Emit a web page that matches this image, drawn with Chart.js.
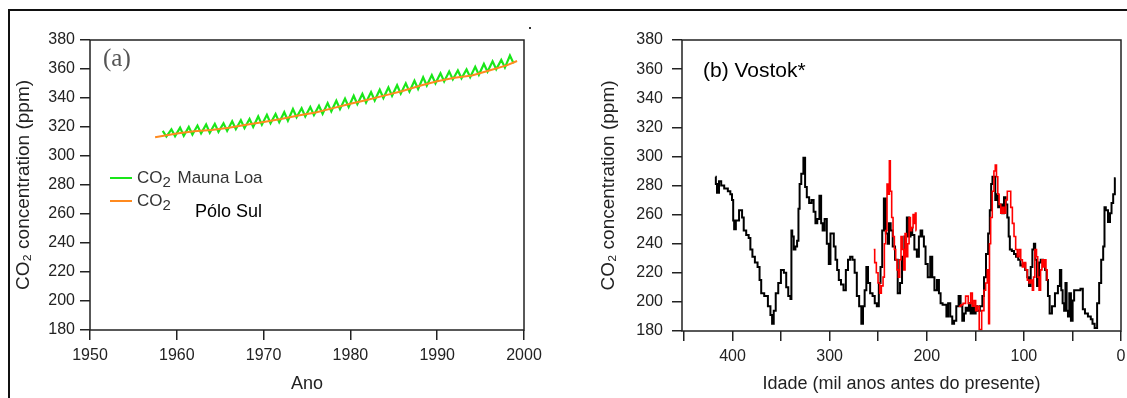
<!DOCTYPE html>
<html>
<head>
<meta charset="utf-8">
<script src="https://cdn.jsdelivr.net/npm/chart.js@4"></script>
<style>
html, body { margin: 0; padding: 0; background: #fff; }
body { width: 1127px; height: 398px; position: relative; overflow: hidden; }
#frameTop { position: absolute; left: 8px; top: 9px; width: 1119px; height: 2px; background: #111; }
#frameLeft { position: absolute; left: 8px; top: 9px; width: 2px; height: 389px; background: #111; }
canvas { position: absolute; }
#left { left: 10px; top: 12px; width: 550px; height: 386px; }
#right { left: 562px; top: 12px; width: 565px; height: 386px; }
</style>
</head>
<body>
<div id="frameTop"></div>
<div id="frameLeft"></div>
<canvas id="left" width="550" height="386"></canvas>
<canvas id="right" width="565" height="386"></canvas>
<script>
// (a) Mauna Loa: one spring maximum and one autumn minimum per year
const mlYears = [1958, 1959, 1960, 1961, 1962, 1963, 1964, 1965, 1966, 1967, 1968, 1969,
  1970, 1971, 1972, 1973, 1974, 1975, 1976, 1977, 1978, 1979, 1980, 1981, 1982, 1983,
  1984, 1985, 1986, 1987, 1988, 1989, 1990, 1991, 1992, 1993, 1994, 1995, 1996, 1997, 1998];
const mlSpring = [317.3, 318.4, 319.6, 320.1, 321.0, 321.7, 322.2, 322.6, 323.9, 324.7, 325.6, 327.3,
  328.4, 329.0, 330.2, 332.4, 332.9, 333.8, 334.7, 336.5, 338.1, 339.6, 341.5, 342.8, 344.1, 345.7,
  347.3, 348.8, 350.1, 351.9, 354.3, 355.8, 357.0, 358.3, 359.0, 359.7, 361.5, 363.5, 365.3, 366.3, 369.3];
const mlAutumn = [313.4, 313.7, 314.0, 314.8, 315.6, 316.0, 316.7, 317.3, 318.5, 319.2, 320.0, 321.6,
  322.6, 323.3, 324.4, 326.7, 327.2, 328.2, 329.1, 330.8, 332.3, 333.8, 335.7, 336.9, 338.3, 340.0,
  341.5, 343.0, 344.4, 346.2, 348.6, 350.1, 351.4, 352.8, 353.6, 354.3, 356.0, 358.1, 359.8, 361.0, 363.9];

// (a) South Pole
const spYears = [1957.5, 1960, 1962, 1964, 1966, 1968, 1970, 1972, 1974, 1976, 1978, 1980,
  1982, 1984, 1986, 1988, 1990, 1992, 1994, 1996, 1998, 1999.2];
const spCO2 = [313.0, 315.5, 317.0, 318.0, 319.5, 321.5, 323.5, 325.5, 328.0, 330.0, 333.0, 336.0,
  338.8, 341.8, 344.8, 348.5, 351.5, 354.0, 355.5, 359.0, 362.5, 365.5];

// (b) Vostok, age in thousand years before present
const vostokAge = [417.5, 416.8, 415.1, 412.7, 410.6, 406.5, 403.1, 401.4, 399.6, 399.0, 397.6, 395.5,
  391.0, 389.3, 387.6, 384.2, 382.5, 380.7, 378.3, 375.6, 372.8, 371.5, 369.4, 365.3, 361.8, 360.1,
  358.4, 356.7, 354.3, 351.5, 348.8, 345.4, 344.0, 341.2, 339.5, 339.2, 337.8, 336.1, 334.4, 332.6,
  331.6, 330.2, 328.2, 325.8, 324.7, 322.3, 319.9, 317.5, 315.5, 313.7, 311.7, 309.3, 308.2, 306.2,
  304.1, 301.7, 300.0, 298.3, 296.6, 294.8, 293.1, 291.4, 289.7, 286.9, 284.5, 282.1, 280.1, 277.7,
  275.3, 273.2, 270.8, 268.4, 266.3, 265.0, 262.9, 261.5, 259.5, 257.1, 254.5, 252.6, 250.2, 248.5,
  246.7, 245.0, 243.3, 240.9, 239.5, 238.2, 236.1, 234.0, 231.3, 228.5, 226.5, 224.4, 221.7, 219.3,
  217.5, 215.8, 214.1, 211.4, 209.0, 207.2, 205.5, 203.8, 202.1, 200.4, 197.6, 195.2, 193.5, 190.7,
  188.3, 186.6, 184.9, 182.5, 180.5, 179.0, 177.0, 174.6, 172.9, 170.8, 168.4, 166.0, 164.3, 162.5,
  160.8, 159.0, 157.4, 155.7, 153.9, 152.0, 150.5, 148.8, 147.1, 143.6, 141.9, 140.2, 137.8, 135.8,
  134.4, 133.0, 131.7, 130.0, 128.9, 127.5, 125.5, 123.4, 121.3, 119.6, 117.9, 116.2, 115.1, 113.8,
  111.0, 109.3, 106.9, 104.8, 102.4, 100.0, 97.3, 95.6, 93.8, 92.1, 90.4, 89.0, 87.7, 85.2, 83.5,
  81.8, 79.0, 77.3, 75.9, 74.5, 72.5, 69.7, 66.3, 63.6, 62.2, 60.8, 59.4, 57.7, 56.7, 55.3, 53.9,
  52.6, 50.5, 49.1, 47.4, 43.0, 40.5, 38.1, 36.1, 32.0, 30.2, 28.5, 25.8, 23.4, 21.6, 19.2, 17.5,
  16.5, 14.8, 12.0, 10.6, 8.9, 7.2, 5.5];
const vostokCO2 = [286, 281, 275, 283, 280, 278, 276, 274, 270, 256, 250, 256,
  263, 258, 249, 246, 244, 236, 231, 227, 224, 215, 206, 204, 197, 191,
  185, 194, 206, 213, 222, 220, 210, 204, 202, 249, 245, 236, 238, 242,
  264, 281, 288, 299, 279, 272, 268, 270, 262, 254, 257, 273, 254, 249,
  257, 240, 226, 247, 247, 238, 229, 222, 215, 212, 208, 222, 229, 231,
  229, 220, 204, 197, 185, 197, 208, 224, 213, 206, 204, 199, 197, 213,
  224, 249, 271, 247, 240, 254, 249, 238, 229, 206, 213, 231, 245, 258,
  245, 251, 246, 236, 231, 245, 249, 245, 238, 226, 217, 231, 217, 208,
  215, 206, 199, 198, 198, 190, 199, 190, 185, 187, 197, 204, 197, 187,
  192, 196, 194, 199, 192, 196, 192, 197, 194, 197, 204, 217, 233, 247,
  263, 281, 286, 286, 270, 274, 265, 267, 261, 272, 267, 258, 245, 236,
  235, 233, 231, 229, 225, 226, 222, 217, 211, 224, 236, 240, 229, 211, 227,
  229, 228, 222, 215, 204, 192, 197, 206, 211, 222, 208, 199, 194, 213, 194, 190,
  206, 187, 201, 208, 208, 209, 195, 192, 190, 188, 185, 182, 199, 213, 229, 238,
  265, 263, 255, 261, 268, 274, 285];

// (b) red record, two sections (null = break)
const redAge = [254.6, 252.6, 251.2, 249.1, 247.8, 245.7, 244.3, 243.0, 241.6, 240.2, 238.8, 238.2,
  236.8, 235.4, 234.0, 232.7, 231.3, 229.9, 228.5, 227.2, 225.8, 224.4, 223.0, 221.7, 220.3, 218.9,
  217.5, 216.2, 214.8, 213.4, 212.0, 211.4, 210.7, null,
  167.0, 165.3, 164.3, 161.0, 159.0, 155.6, 153.9, 152.2, 150.5, 148.8, 147.1, 144.9, 142.0, 140.2,
  138.5, 136.8, 135.8, 135.0, 133.4, 131.7, 130.0, 128.9, 127.5, 126.2, 124.8, 122.8, 121.4, 119.6,
  117.9, 116.2, 114.4, 112.7, 111.0, 109.3, 107.6, 105.9, 104.1, 102.4, 100.7, 99.0, 97.3, 95.6,
  93.8, 92.1, 90.4, 89.7, 87.7, 86.3, 85.2, 83.5, 82.1, 80.7, 79.4, 78.0, 76.6, 75.6];
const redCO2 = [236, 227, 220, 213, 206, 211, 217, 240, 249, 281, 274, 297,
  276, 258, 245, 236, 229, 222, 217, 229, 245, 236, 222, 247, 231, 240,
  258, 249, 251, 260, 254, 261, 249, null,
  197, 197, 198, 199, 204, 199, 206, 197, 201, 194, 197, 181, 194, 208,
  213, 222, 185, 240, 258, 276, 290, 294, 286, 274, 267, 261, 265, 261,
  270, 276, 276, 265, 254, 245, 236, 231, 236, 229, 224, 227, 222, 215,
  213, 215, 208, 217, 236, 231, 217, 208, 222, 229, 224, 229, 222, 215];

const yTicks = [180, 200, 220, 240, 260, 280, 300, 320, 340, 360, 380];
const yearTicks = [1950, 1960, 1970, 1980, 1990, 2000];
const ageTicks = [0, 50, 100, 150, 200, 250, 300, 350, 400, 450];
const ageLabels = [0, 100, 200, 300, 400];
const legendNames = ['Mauna Loa', 'South Pole'];

const FONT = '"Liberation Sans", Arial, sans-serif';
const INK = '#222';

const mlPoints = [];
mlYears.forEach((yr, i) => {
  mlPoints.push({ x: yr + 0.38, y: mlSpring[i] });
  mlPoints.push({ x: yr + 0.8, y: mlAutumn[i] });
});
const spPoints = spYears.map((yr, i) => ({ x: yr, y: spCO2[i] }));
const vostokPoints = vostokAge.map((a, i) => ({ x: a, y: vostokCO2[i] }));
const redPoints = redAge.map((a, i) => ({ x: a, y: redCO2[i] }));

// box round the plot area
const framePlugin = {
  id: 'frame',
  afterDatasetsDraw(chart) {
    const { ctx, chartArea: a } = chart;
    ctx.save();
    ctx.strokeStyle = INK;
    ctx.lineWidth = 1.5;
    ctx.strokeRect(a.left, a.top, a.right - a.left, a.bottom - a.top);
    ctx.restore();
  }
};

function co2Text(ctx, x, y, rest) {
  ctx.font = '17px ' + FONT;
  ctx.fillText('CO', x, y);
  const w = ctx.measureText('CO').width;
  ctx.font = '15px ' + FONT;
  ctx.fillText('2', x + w, y + 5);
  ctx.font = '17px ' + FONT;
  ctx.fillText(rest, x + w + 15, y);
}

const leftNotes = {
  id: 'leftNotes',
  afterDraw(chart) {
    const ctx = chart.ctx;
    const ds = chart.data.datasets;
    ctx.save();
    ctx.textBaseline = 'middle';
    ctx.fillStyle = '#555';
    ctx.font = '25px "Liberation Serif", serif';
    ctx.fillText('(a)', 93, 47);
    legendNames.forEach((name, i) => {
      const y = 166 + i * 23;
      ctx.strokeStyle = ds[i].borderColor;
      ctx.lineWidth = 2;
      ctx.beginPath();
      ctx.moveTo(100, y);
      ctx.lineTo(122, y);
      ctx.stroke();
      ctx.fillStyle = '#333';
      co2Text(ctx, 127, y, name);
    });
    ctx.fillStyle = '#fff';
    ctx.fillRect(165, 181, 152, 37);
    ctx.fillStyle = '#000';
    ctx.font = '18px ' + FONT;
    ctx.fillText('Pólo Sul', 185, 200);
    ctx.fillStyle = '#333';
    ctx.fillRect(519, 15, 2, 2);
    ctx.restore();
  }
};

const rightNotes = {
  id: 'rightNotes',
  afterDraw(chart) {
    const ctx = chart.ctx;
    ctx.save();
    ctx.textBaseline = 'middle';
    ctx.fillStyle = '#000';
    ctx.font = '21px ' + FONT;
    ctx.fillText('(b) Vostok*', 141, 59);
    ctx.restore();
  }
};

function yAxis(width, titlePad, labelPad) {
  return {
    min: 180, max: 380,
    afterBuildTicks(s) { s.ticks = yTicks.map(v => ({ value: v })); },
    afterFit(s) { s.width = width; },
    ticks: { color: INK, font: { family: FONT, size: 16 }, padding: labelPad, callback: v => String(v) },
    grid: { drawOnChartArea: false, color: INK, lineWidth: 1.5, tickLength: 10 },
    border: { display: false },
    title: { display: true, text: 'CO₂ concentration (ppm)', color: INK,
      font: { family: FONT, size: 19 }, padding: { top: titlePad, bottom: 0 } }
  };
}

const common = {
  responsive: false,
  animation: false,
  events: [],
  plugins: { legend: { display: false }, tooltip: { enabled: false } }
};

new Chart(document.getElementById('left'), {
  type: 'line',
  data: {
    datasets: [
      { label: 'CO2 Mauna Loa', data: mlPoints, borderColor: '#19e619', borderWidth: 2.2,
        pointRadius: 0, tension: 0, order: 1 },
      { label: 'CO2 South Pole', data: spPoints, borderColor: '#ff8a1f', borderWidth: 2,
        pointRadius: 0, tension: 0, order: 0 }
    ]
  },
  options: Object.assign({}, common, {
    layout: { padding: { top: 28, right: 36, left: 0, bottom: 0 } },
    scales: {
      x: {
        type: 'linear', min: 1950, max: 2000,
        afterBuildTicks(s) { s.ticks = yearTicks.map(v => ({ value: v })); },
        afterFit(s) { s.height = 68; },
        ticks: { color: INK, font: { family: FONT, size: 16 }, padding: 6,
          autoSkip: false, maxRotation: 0, callback: v => String(v) },
        grid: { drawOnChartArea: false, color: INK, lineWidth: 1.5, tickLength: 10 },
        border: { display: false },
        title: { display: true, text: 'Ano', color: INK, font: { family: FONT, size: 18 },
          padding: { top: 0, bottom: 3 } }
      },
      y: yAxis(80, 2, 5)
    }
  }),
  plugins: [framePlugin, leftNotes]
});

new Chart(document.getElementById('right'), {
  type: 'line',
  data: {
    datasets: [
      { label: 'Vostok', data: vostokPoints, borderColor: '#000', borderWidth: 2,
        pointRadius: 0, stepped: 'middle', order: 1 },
      { label: 'Vostok (red)', data: redPoints, borderColor: '#ff0000', borderWidth: 1.6,
        pointRadius: 0, stepped: 'middle', spanGaps: false, order: 0 }
    ]
  },
  options: Object.assign({}, common, {
    layout: { padding: { top: 28, right: 6, left: 0, bottom: 0 } },
    scales: {
      x: {
        type: 'linear', min: 0, max: 452, reverse: true,
        afterBuildTicks(s) { s.ticks = ageTicks.map(v => ({ value: v })); },
        afterFit(s) { s.height = 67; },
        ticks: { color: INK, font: { family: FONT, size: 16 }, padding: 6,
          autoSkip: false, maxRotation: 0,
          callback: v => (ageLabels.includes(v) ? String(v) : '') },
        grid: { drawOnChartArea: false, color: INK, lineWidth: 1.5, tickLength: 10 },
        border: { display: false },
        title: { display: true, text: 'Idade (mil anos antes do presente)', color: INK,
          font: { family: FONT, size: 18 }, padding: { top: 0, bottom: 3 } }
      },
      y: yAxis(120, 35, 9)
    }
  }),
  plugins: [framePlugin, rightNotes]
});
</script>
</body>
</html>
